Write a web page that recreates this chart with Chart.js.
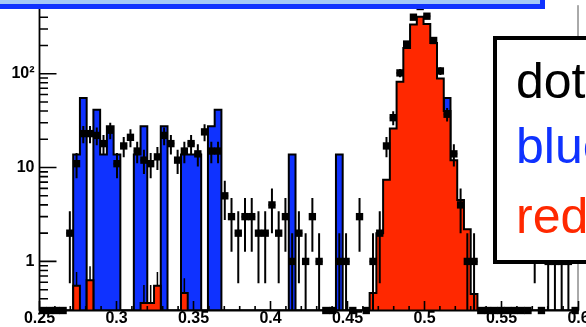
<!DOCTYPE html>
<html>
<head>
<meta charset="utf-8">
<title>histogram</title>
<script src="https://cdn.jsdelivr.net/npm/chart.js@4.4.1/dist/chart.umd.min.js"></script>
<style>
  html, body { margin: 0; padding: 0; background: #ffffff; }
  #wrap { position: relative; width: 586px; height: 327px; overflow: hidden; background: #ffffff; }
  #plot { position: absolute; left: 0; top: 0; }
  #titleBox {
    position: absolute; left: -12px; top: -40px; width: 557px; height: 48.5px;
    box-sizing: border-box; background: #a3c7f7; border: 5px solid #0f32ff;
  }
  #legendBox {
    position: absolute; left: 493px; top: 36px; width: 160px; height: 228px;
    box-sizing: border-box; background: #ffffff; border: 4.5px solid #000000;
    font-family: "Liberation Sans", Arial, sans-serif; font-size: 50px;
  }
  .entry { position: absolute; left: 19px; line-height: 50px; white-space: nowrap; }
</style>
</head>
<body>
<div id="wrap">
  <canvas id="plot" width="586" height="327"></canvas>
  <div id="titleBox"></div>
  <div id="legendBox">
    <div class="entry" style="top:15.5px;color:#000000">dots</div>
    <div class="entry" style="top:80.5px;color:#0f32ff">blue</div>
    <div class="entry" style="top:150.5px;color:#ff2800">red</div>
  </div>
</div>
<script>
// binning: 80 bins from 0.25 to 0.6
const BIN_LO = 0.25;
const BIN_W = 0.004375;

// black points (counts per bin)
const DOTS = [
  0, 0, 0, 0, 2, 11, 23, 23, 22, 18,
  25, 11, 17, 21, 15, 12, 11, 13, 22, 18,
  12, 15, 18, 14, 24, 15, 15, 5, 3, 2,
  3, 3, 2, 2, 4, 2, 3, 1, 2, 1,
  3, 1, 0, 0, 1, 1, 0, 3, 0, 1,
  2, 17, 34, 102, 207, 400, 520, 410, 226, 107,
  37, 14, 4, 1, 1, 0, 0, 0, 0, 0,
  0, 0, 0, 2, 0, 1, 1, 1, 1, 0,
];

// blue histogram
const BLUE = [
  0, 0, 0, 0, 0, 13.8, 55.2, 0, 41.4, 13.8,
  27.6, 13.8, 0, 0, 13.8, 27.6, 0, 0, 27.6, 0,
  0, 13.8, 13.8, 13.8, 0, 27.6, 41.4, 0, 0, 0,
  0, 0, 0, 0, 0, 0, 0, 13.8, 0, 0,
  0, 0, 0, 0, 13.8, 0, 0, 0, 0, 0,
  0, 0, 0, 0, 0, 0, 0, 0, 0, 0,
  55.2, 0, 0, 0, 0, 0, 0, 0, 0, 0,
  0, 0, 0, 0, 0, 0, 0, 0, 0, 0,
];

// red histogram
const RED = [
  0, 0, 0, 0, 0, 0.55, 0, 0.63, 0, 0,
  0, 0, 0, 0, 0, 0.36, 0.36, 0.55, 0, 0,
  0, 0.46, 0, 0, 0, 0, 0, 0, 0, 0,
  0, 0, 0, 0, 0, 0, 0, 0, 0, 0,
  0, 0, 0, 0, 0, 0, 0, 0, 0, 0.46,
  2.0, 7.4, 26, 82, 188, 335, 405, 338, 212, 89,
  40, 12, 4.5, 2.2, 0.45, 0, 0, 0, 0, 0,
  0, 0, 0, 0, 0, 0, 0, 0, 0, 0,
];

// red error bars (only the visible ones)
const RED_ERR = [
  0, 0, 0, 0, 0, 0.22, 0, 0.26, 0, 0,
  0, 0, 0, 0, 0, 0.2, 0.2, 0.22, 0, 0,
  0, 0.2, 0, 0, 0, 0, 0, 0, 0, 0,
  0, 0, 0, 0, 0, 0, 0, 0, 0, 0,
  0, 0, 0, 0, 0, 0, 0, 0, 0, 0,
  0, 0, 0, 0, 0, 0, 0, 0, 0, 0,
  0, 0, 0, 0, 0, 0, 0, 0, 0, 0,
  0, 0, 0, 0, 0, 0, 0, 0, 0, 0,
];

const X_TICKS = [0.25, 0.3, 0.35, 0.4, 0.45, 0.5, 0.55, 0.6];
const X_TICK_LABELS = ["0.25", "0.3", "0.35", "0.4", "0.45", "0.5", "0.55", "0.6"];
const Y_TICKS = [1, 10, 100];
const Y_TICK_LABELS = ["1", "10", "10\u00b2"];
const Y_MIN = 0.3;
const Y_MAX = 537;

const BLUE_COLOR = "#0f32ff";
const RED_COLOR = "#ff2800";
const LABEL_FONT = { family: "'Liberation Sans', Arial, sans-serif", weight: "bold", size: 16, lineHeight: 1 };

// empty bins sit on the axis minimum, like ROOT draws them on a log scale
function stepPoints(values) {
  const pts = values.map((v, i) => ({ x: BIN_LO + i * BIN_W, y: Math.max(v, Y_MIN) }));
  pts.push({ x: BIN_LO + values.length * BIN_W, y: Math.max(values[values.length - 1], Y_MIN) });
  return pts;
}

function centerPoints(values) {
  return values.map((v, i) => ({ x: BIN_LO + (i + 0.5) * BIN_W, y: Math.max(v, Y_MIN) }));
}

function drawAxes(chart) {
  const { ctx, chartArea: a, scales: { x, y } } = chart;
  ctx.save();
  ctx.lineCap = "butt";
  ctx.strokeStyle = "#555";
  ctx.lineWidth = 1;
  ctx.beginPath();
  ctx.moveTo(a.right - 0.5, a.top);
  ctx.lineTo(a.right - 0.5, a.bottom);
  ctx.stroke();

  ctx.strokeStyle = "#000";
  ctx.lineWidth = 1.8;
  ctx.beginPath();
  ctx.moveTo(a.left, a.top);
  ctx.lineTo(a.left, a.bottom);
  ctx.lineTo(a.right, a.bottom);
  ctx.stroke();

  ctx.lineWidth = 1.6;
  ctx.beginPath();
  for (const d of [0.1, 1, 10, 100]) {
    for (let m = 1; m <= 9; m++) {
      const v = d * m;
      if (v <= Y_MIN || v >= Y_MAX) continue;
      const py = y.getPixelForValue(v);
      ctx.moveTo(a.left, py);
      ctx.lineTo(a.left + (m === 1 ? 17 : 8.5), py);
    }
  }
  for (let k = 25; k <= 60; k++) {
    const px = x.getPixelForValue(k / 100);
    ctx.moveTo(px, a.bottom);
    ctx.lineTo(px, a.bottom - (k % 5 === 0 ? 9.5 : 4.5));
  }
  ctx.stroke();
  ctx.restore();
}

function drawRedErrors(chart) {
  const { ctx, scales: { x, y } } = chart;
  ctx.save();
  ctx.strokeStyle = "#000";
  ctx.lineWidth = 1.5;
  ctx.beginPath();
  RED_ERR.forEach((e, i) => {
    if (!e) return;
    const cx = x.getPixelForValue(BIN_LO + (i + 0.5) * BIN_W);
    ctx.moveTo(cx, y.getPixelForValue(Math.max(RED[i] - e, Y_MIN)));
    ctx.lineTo(cx, y.getPixelForValue(RED[i] + e));
  });
  ctx.stroke();
  ctx.restore();
}

function drawDotErrors(chart) {
  const { ctx, chartArea: a, scales: { x, y } } = chart;
  ctx.save();
  ctx.beginPath();
  ctx.rect(a.left, 0, a.right - a.left, a.bottom + 4);
  ctx.clip();
  ctx.strokeStyle = "#000";
  ctx.lineWidth = 2;
  ctx.beginPath();
  DOTS.forEach((n, i) => {
    const cy = y.getPixelForValue(Math.max(n, Y_MIN));
    ctx.moveTo(x.getPixelForValue(BIN_LO + i * BIN_W), cy);
    ctx.lineTo(x.getPixelForValue(BIN_LO + (i + 1) * BIN_W), cy);
    if (n > 0) {
      const e = Math.sqrt(n);
      const cx = x.getPixelForValue(BIN_LO + (i + 0.5) * BIN_W);
      ctx.moveTo(cx, y.getPixelForValue(n + e));
      ctx.lineTo(cx, n - e > Y_MIN ? y.getPixelForValue(n - e) : a.bottom);
    }
  });
  ctx.stroke();
  ctx.restore();
}

const rootStyle = {
  id: "rootStyle",
  afterDatasetDraw(chart, args) {
    if (args.index === 2) drawRedErrors(chart);  // under the red fill
    if (args.index === 1) drawAxes(chart);       // before the points
  },
  afterDatasetsDraw(chart) {
    drawDotErrors(chart);
  },
};

new Chart(document.getElementById("plot"), {
  type: "line",
  data: {
    datasets: [
      {
        label: "dots",
        data: centerPoints(DOTS),
        showLine: false,
        pointStyle: "rect",
        pointRadius: 5.2,
        pointBackgroundColor: "#000",
        pointBorderWidth: 0,
        clip: false,
      },
      {
        label: "red",
        data: stepPoints(RED),
        stepped: "before",
        fill: "start",
        backgroundColor: RED_COLOR,
        borderColor: "#000",
        borderWidth: 2,
        pointRadius: 0,
      },
      {
        label: "blue",
        data: stepPoints(BLUE),
        stepped: "before",
        fill: "start",
        backgroundColor: BLUE_COLOR,
        borderColor: "#000",
        borderWidth: 2,
        pointRadius: 0,
      },
    ],
  },
  options: {
    responsive: false,
    devicePixelRatio: 1,
    animation: false,
    layout: { padding: { left: 0, right: 7.5, top: 1.5, bottom: 0 } },
    plugins: { legend: { display: false }, tooltip: { enabled: false } },
    scales: {
      x: {
        type: "linear",
        min: 0.25,
        max: 0.6,
        bounds: "data",
        grid: { display: false, drawTicks: false },
        border: { display: false },
        afterBuildTicks: (s) => { s.ticks = X_TICKS.map((v) => ({ value: v })); },
        afterFit: (s) => { s.height = 16.5; s.paddingLeft = 0; s.paddingRight = 0; },
        ticks: {
          color: "#000",
          font: LABEL_FONT,
          padding: 0,
          autoSkip: false,
          maxRotation: 0,
          minRotation: 0,
          callback: (v, i) => X_TICK_LABELS[i],
        },
      },
      y: {
        type: "logarithmic",
        min: Y_MIN,
        max: Y_MAX,
        grid: { display: false, drawTicks: false },
        border: { display: false },
        afterBuildTicks: (s) => { s.ticks = Y_TICKS.map((v) => ({ value: v })); },
        afterFit: (s) => { s.width = 39.5; s.paddingTop = 0; s.paddingBottom = 0; },
        ticks: {
          color: "#000",
          font: LABEL_FONT,
          padding: 5,
          callback: (v, i) => Y_TICK_LABELS[i],
        },
      },
    },
  },
  plugins: [rootStyle],
});
</script>
</body>
</html>
